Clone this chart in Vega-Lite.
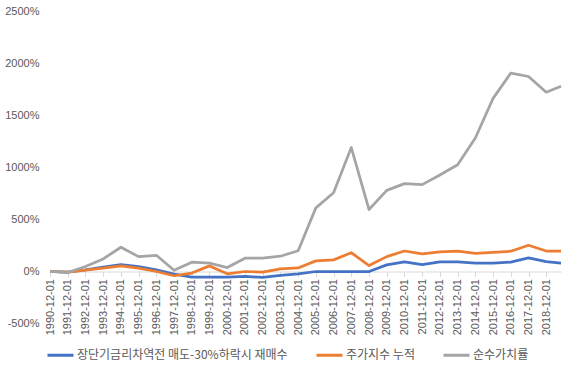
{
  "$schema": "https://vega.github.io/schema/vega-lite/v6.json",
  "autosize": {"type": "none"},
  "width": 511,
  "height": 312,
  "padding": {"left": 50, "top": 11.5, "right": 14, "bottom": 43.5},
  "background": "white",
  "config": {"view": {"stroke": null}},
  "datasets": {
    "rows": [
      {"date": "1990/12/01", "series": "장단기금리차역전 매도-30%하락시 재매수", "value": 0},
      {"date": "1991/12/01", "series": "장단기금리차역전 매도-30%하락시 재매수", "value": -5},
      {"date": "1992/12/01", "series": "장단기금리차역전 매도-30%하락시 재매수", "value": 16},
      {"date": "1993/12/01", "series": "장단기금리차역전 매도-30%하락시 재매수", "value": 42},
      {"date": "1994/12/01", "series": "장단기금리차역전 매도-30%하락시 재매수", "value": 67},
      {"date": "1995/12/01", "series": "장단기금리차역전 매도-30%하락시 재매수", "value": 48},
      {"date": "1996/12/01", "series": "장단기금리차역전 매도-30%하락시 재매수", "value": 16},
      {"date": "1997/12/01", "series": "장단기금리차역전 매도-30%하락시 재매수", "value": -25},
      {"date": "1998/12/01", "series": "장단기금리차역전 매도-30%하락시 재매수", "value": -54},
      {"date": "1999/12/01", "series": "장단기금리차역전 매도-30%하락시 재매수", "value": -54},
      {"date": "2000/12/01", "series": "장단기금리차역전 매도-30%하락시 재매수", "value": -54},
      {"date": "2001/12/01", "series": "장단기금리차역전 매도-30%하락시 재매수", "value": -48},
      {"date": "2002/12/01", "series": "장단기금리차역전 매도-30%하락시 재매수", "value": -57},
      {"date": "2003/12/01", "series": "장단기금리차역전 매도-30%하락시 재매수", "value": -38},
      {"date": "2004/12/01", "series": "장단기금리차역전 매도-30%하락시 재매수", "value": -22},
      {"date": "2005/12/01", "series": "장단기금리차역전 매도-30%하락시 재매수", "value": 0},
      {"date": "2006/12/01", "series": "장단기금리차역전 매도-30%하락시 재매수", "value": 0},
      {"date": "2007/12/01", "series": "장단기금리차역전 매도-30%하락시 재매수", "value": 0},
      {"date": "2008/12/01", "series": "장단기금리차역전 매도-30%하락시 재매수", "value": 0},
      {"date": "2009/12/01", "series": "장단기금리차역전 매도-30%하락시 재매수", "value": 64},
      {"date": "2010/12/01", "series": "장단기금리차역전 매도-30%하락시 재매수", "value": 93},
      {"date": "2011/12/01", "series": "장단기금리차역전 매도-30%하락시 재매수", "value": 67},
      {"date": "2012/12/01", "series": "장단기금리차역전 매도-30%하락시 재매수", "value": 93},
      {"date": "2013/12/01", "series": "장단기금리차역전 매도-30%하락시 재매수", "value": 93},
      {"date": "2014/12/01", "series": "장단기금리차역전 매도-30%하락시 재매수", "value": 80},
      {"date": "2015/12/01", "series": "장단기금리차역전 매도-30%하락시 재매수", "value": 80},
      {"date": "2016/12/01", "series": "장단기금리차역전 매도-30%하락시 재매수", "value": 90},
      {"date": "2017/12/01", "series": "장단기금리차역전 매도-30%하락시 재매수", "value": 131},
      {"date": "2018/12/01", "series": "장단기금리차역전 매도-30%하락시 재매수", "value": 95},
      {"date": "2019/10/01", "series": "장단기금리차역전 매도-30%하락시 재매수", "value": 80},
      {"date": "1990/12/01", "series": "주가지수 누적", "value": 0},
      {"date": "1991/12/01", "series": "주가지수 누적", "value": -5},
      {"date": "1992/12/01", "series": "주가지수 누적", "value": 13},
      {"date": "1993/12/01", "series": "주가지수 누적", "value": 32},
      {"date": "1994/12/01", "series": "주가지수 누적", "value": 54},
      {"date": "1995/12/01", "series": "주가지수 누적", "value": 32},
      {"date": "1996/12/01", "series": "주가지수 누적", "value": 0},
      {"date": "1997/12/01", "series": "주가지수 누적", "value": -41},
      {"date": "1998/12/01", "series": "주가지수 누적", "value": -15},
      {"date": "1999/12/01", "series": "주가지수 누적", "value": 54},
      {"date": "2000/12/01", "series": "주가지수 누적", "value": -22},
      {"date": "2001/12/01", "series": "주가지수 누적", "value": 0},
      {"date": "2002/12/01", "series": "주가지수 누적", "value": -6},
      {"date": "2003/12/01", "series": "주가지수 누적", "value": 26},
      {"date": "2004/12/01", "series": "주가지수 누적", "value": 34},
      {"date": "2005/12/01", "series": "주가지수 누적", "value": 102},
      {"date": "2006/12/01", "series": "주가지수 누적", "value": 112},
      {"date": "2007/12/01", "series": "주가지수 누적", "value": 181},
      {"date": "2008/12/01", "series": "주가지수 누적", "value": 57},
      {"date": "2009/12/01", "series": "주가지수 누적", "value": 143},
      {"date": "2010/12/01", "series": "주가지수 누적", "value": 197},
      {"date": "2011/12/01", "series": "주가지수 누적", "value": 169},
      {"date": "2012/12/01", "series": "주가지수 누적", "value": 188},
      {"date": "2013/12/01", "series": "주가지수 누적", "value": 195},
      {"date": "2014/12/01", "series": "주가지수 누적", "value": 175},
      {"date": "2015/12/01", "series": "주가지수 누적", "value": 185},
      {"date": "2016/12/01", "series": "주가지수 누적", "value": 195},
      {"date": "2017/12/01", "series": "주가지수 누적", "value": 252},
      {"date": "2018/12/01", "series": "주가지수 누적", "value": 197},
      {"date": "2019/10/01", "series": "주가지수 누적", "value": 197},
      {"date": "1990/12/01", "series": "순수가치률", "value": 0},
      {"date": "1991/12/01", "series": "순수가치률", "value": -10},
      {"date": "1992/12/01", "series": "순수가치률", "value": 48},
      {"date": "1993/12/01", "series": "순수가치률", "value": 121},
      {"date": "1994/12/01", "series": "순수가치률", "value": 233},
      {"date": "1995/12/01", "series": "순수가치률", "value": 143},
      {"date": "1996/12/01", "series": "순수가치률", "value": 156},
      {"date": "1997/12/01", "series": "순수가치률", "value": 12},
      {"date": "1998/12/01", "series": "순수가치률", "value": 90},
      {"date": "1999/12/01", "series": "순수가치률", "value": 80},
      {"date": "2000/12/01", "series": "순수가치률", "value": 38},
      {"date": "2001/12/01", "series": "순수가치률", "value": 128},
      {"date": "2002/12/01", "series": "순수가치률", "value": 128},
      {"date": "2003/12/01", "series": "순수가치률", "value": 147},
      {"date": "2004/12/01", "series": "순수가치률", "value": 200},
      {"date": "2005/12/01", "series": "순수가치률", "value": 612},
      {"date": "2006/12/01", "series": "순수가치률", "value": 757},
      {"date": "2007/12/01", "series": "순수가치률", "value": 1192},
      {"date": "2008/12/01", "series": "순수가치률", "value": 596},
      {"date": "2009/12/01", "series": "순수가치률", "value": 780},
      {"date": "2010/12/01", "series": "순수가치률", "value": 845},
      {"date": "2011/12/01", "series": "순수가치률", "value": 835},
      {"date": "2012/12/01", "series": "순수가치률", "value": 928},
      {"date": "2013/12/01", "series": "순수가치률", "value": 1027},
      {"date": "2014/12/01", "series": "순수가치률", "value": 1284},
      {"date": "2015/12/01", "series": "순수가치률", "value": 1665},
      {"date": "2016/12/01", "series": "순수가치률", "value": 1908},
      {"date": "2017/12/01", "series": "순수가치률", "value": 1875},
      {"date": "2018/12/01", "series": "순수가치률", "value": 1724},
      {"date": "2019/10/01", "series": "순수가치률", "value": 1782}
    ]
  },
  "data": {"name": "rows"},
  "mark": {"type": "line", "strokeWidth": 2.75, "strokeJoin": "round", "strokeCap": "butt"},
  "encoding": {
    "x": {
      "field": "date",
      "type": "temporal",
      "scale": {"domain": [{"year": 1990, "month": 12, "date": 1}, {"year": 2019, "month": 10, "date": 1}]},
      "axis": {
        "title": null,
        "offset": -52,
        "format": "%Y-%m-%d",
        "labelAngle": -90,
        "labelFont": "Liberation Sans",
        "labelFontSize": 11,
        "labelColor": "#595959",
        "labelPadding": 2,
        "labelOverlap": false,
        "labelFlush": false,
        "tickSize": 5,
        "tickColor": "#D9D9D9",
        "domainColor": "#D9D9D9",
        "grid": false,
        "values": [
          {"year": 1990, "month": 12, "date": 1}, {"year": 1991, "month": 12, "date": 1},
          {"year": 1992, "month": 12, "date": 1}, {"year": 1993, "month": 12, "date": 1},
          {"year": 1994, "month": 12, "date": 1}, {"year": 1995, "month": 12, "date": 1},
          {"year": 1996, "month": 12, "date": 1}, {"year": 1997, "month": 12, "date": 1},
          {"year": 1998, "month": 12, "date": 1}, {"year": 1999, "month": 12, "date": 1},
          {"year": 2000, "month": 12, "date": 1}, {"year": 2001, "month": 12, "date": 1},
          {"year": 2002, "month": 12, "date": 1}, {"year": 2003, "month": 12, "date": 1},
          {"year": 2004, "month": 12, "date": 1}, {"year": 2005, "month": 12, "date": 1},
          {"year": 2006, "month": 12, "date": 1}, {"year": 2007, "month": 12, "date": 1},
          {"year": 2008, "month": 12, "date": 1}, {"year": 2009, "month": 12, "date": 1},
          {"year": 2010, "month": 12, "date": 1}, {"year": 2011, "month": 12, "date": 1},
          {"year": 2012, "month": 12, "date": 1}, {"year": 2013, "month": 12, "date": 1},
          {"year": 2014, "month": 12, "date": 1}, {"year": 2015, "month": 12, "date": 1},
          {"year": 2016, "month": 12, "date": 1}, {"year": 2017, "month": 12, "date": 1},
          {"year": 2018, "month": 12, "date": 1}
        ]
      }
    },
    "y": {
      "field": "value",
      "type": "quantitative",
      "scale": {"domain": [-500, 2500], "nice": false},
      "axis": {
        "title": null,
        "values": [-500, 0, 500, 1000, 1500, 2000, 2500],
        "labelExpr": "datum.value + '%'",
        "labelFont": "Liberation Sans",
        "labelFontSize": 11,
        "labelColor": "#595959",
        "ticks": false,
        "domain": false,
        "grid": false,
        "labelPadding": 11
      }
    },
    "color": {
      "field": "series",
      "type": "nominal",
      "sort": ["장단기금리차역전 매도-30%하락시 재매수", "주가지수 누적", "순수가치률"],
      "scale": {
        "domain": ["장단기금리차역전 매도-30%하락시 재매수", "주가지수 누적", "순수가치률"],
        "range": ["#4472C4", "#ED7D31", "#A5A5A5"]
      },
      "legend": {
        "title": null,
        "orient": "none",
        "direction": "horizontal",
        "legendX": -4,
        "legendY": 329,
        "symbolType": "stroke",
        "symbolSize": 676,
        "symbolStrokeWidth": 3,
        "labelFont": "Noto Sans CJK KR",
        "labelFontSize": 12,
        "labelLimit": 0,
        "labelColor": "#595959",
        "labelOffset": 2,
        "columnPadding": 22
      }
    }
  }
}
